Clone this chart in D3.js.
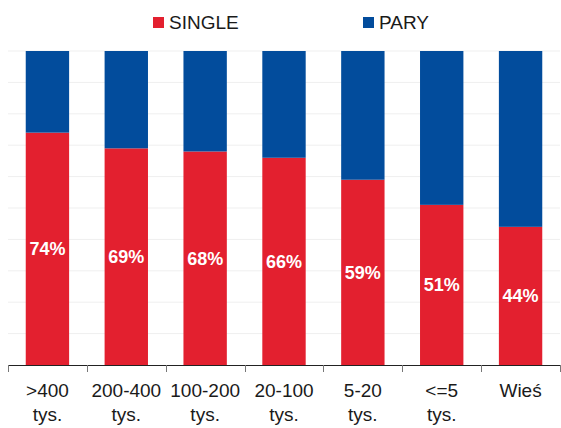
<!DOCTYPE html>
<html>
<head>
<meta charset="utf-8">
<script src="https://cdn.jsdelivr.net/npm/d3@7"></script>
<style>
  body { margin: 0; background: #fff; }
  svg text { font-family: "Liberation Sans", Arial, sans-serif; }
</style>
</head>
<body>
<svg id="chart" width="561" height="428"></svg>
<script>
// Share of single vs. paired, by town size
const categories = [">400|tys.", "200-400|tys.", "100-200|tys.", "20-100|tys.", "5-20|tys.", "<=5|tys.", "Wieś"];
const single = [74, 69, 68, 66, 59, 51, 44];
const pary = single.map(v => 100 - v);
const seriesNames = ["SINGLE", "PARY"];
const colors = ["#E3202F", "#024C9C"];
const yTicks = d3.range(0, 101, 10);

const svg = d3.select("#chart");
const margin = { top: 51, left: 8, right: 1, bottom: 63 };
const W = 561, H = 428;

const x = d3.scaleBand()
  .domain(categories)
  .range([margin.left, W - margin.right])
  .paddingInner(0.45)
  .paddingOuter(0.225);

const y = d3.scaleLinear()
  .domain([0, 100])
  .range([H - margin.bottom, margin.top]);

// faint horizontal gridlines
svg.append("g")
  .selectAll("line")
  .data(yTicks.filter(d => d > 0))
  .join("line")
  .attr("x1", margin.left)
  .attr("x2", W - margin.right)
  .attr("y1", d => y(d))
  .attr("y2", d => y(d))
  .attr("stroke", "#efefef")
  .attr("stroke-width", 1);

const rows = categories.map((c, i) => ({ cat: c, SINGLE: single[i], PARY: pary[i] }));
const stacked = d3.stack().keys(seriesNames)(rows);

svg.append("g")
  .selectAll("g")
  .data(stacked)
  .join("g")
  .attr("fill", (d, i) => colors[i])
  .selectAll("rect")
  .data(d => d)
  .join("rect")
  .attr("x", d => x(d.data.cat))
  .attr("width", x.bandwidth())
  .attr("y", d => y(d[1]))
  .attr("height", d => y(d[0]) - y(d[1]));

// value labels in the middle of the red segment
svg.append("g")
  .selectAll("text")
  .data(rows)
  .join("text")
  .attr("x", d => x(d.cat) + x.bandwidth() / 2)
  .attr("y", d => y(d.SINGLE / 2))
  .attr("dy", "0.35em")
  .attr("text-anchor", "middle")
  .attr("fill", "#fff")
  .attr("font-size", 18)
  .attr("font-weight", "bold")
  .text(d => d.SINGLE + "%");

// x axis with ticks between categories
const axisY = y(0);
const step = x.step();
const bounds = d3.range(categories.length + 1).map(i => margin.left + i * step);
const ax = svg.append("g");
ax.append("line")
  .attr("x1", margin.left).attr("x2", W - margin.right)
  .attr("y1", axisY + 0.5).attr("y2", axisY + 0.5)
  .attr("stroke", "#222").attr("stroke-width", 1);
ax.selectAll("line.tick")
  .data(bounds)
  .join("line")
  .attr("class", "tick")
  .attr("x1", d => Math.round(d) + 0.5).attr("x2", d => Math.round(d) + 0.5)
  .attr("y1", axisY).attr("y2", axisY + 7)
  .attr("stroke", "#777");

const lbl = ax.selectAll("text.cat")
  .data(categories)
  .join("text")
  .attr("class", "cat")
  .attr("text-anchor", "middle")
  .attr("fill", "#1a1a1a")
  .attr("font-size", 19)
  .attr("transform", d => `translate(${x(d) + x.bandwidth() / 2},0)`);
lbl.each(function(d) {
  const parts = d.split("|");
  const t = d3.select(this);
  parts.forEach((p, i) => {
    t.append("tspan").attr("x", 0).attr("y", 397 + i * 24).text(p);
  });
});

// legend
const legend = svg.append("g");
const legendX = [153, 363];
seriesNames.forEach((name, i) => {
  legend.append("rect")
    .attr("x", legendX[i]).attr("y", 17)
    .attr("width", 11).attr("height", 11)
    .attr("fill", colors[i]);
  legend.append("text")
    .attr("x", legendX[i] + 16).attr("y", 29)
    .attr("font-size", 19)
    .attr("fill", "#1a1a1a")
    .text(name);
});
</script>
</body>
</html>
